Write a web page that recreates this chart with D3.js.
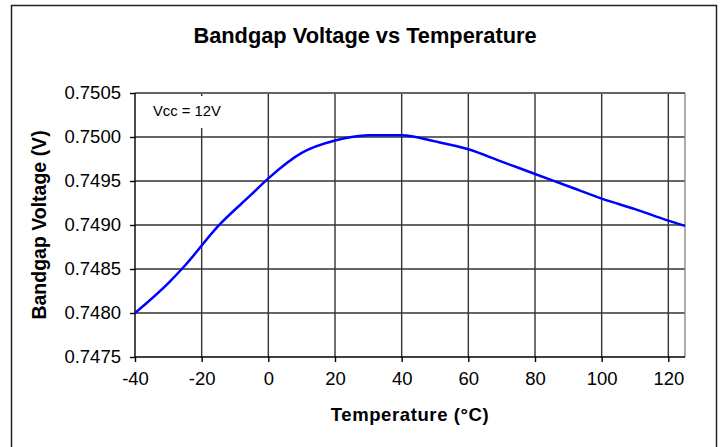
<!DOCTYPE html>
<html>
<head>
<meta charset="utf-8">
<script src="https://cdn.jsdelivr.net/npm/d3@7"></script>
<style>
  body { margin: 0; background: #fff; }
  text { font-family: "Liberation Sans", Arial, sans-serif; }
</style>
</head>
<body>
<div id="chart"></div>
<script>
var temps = [-40, -30, -25, -15, -5, 0, 10, 20, 25, 30, 35, 40, 50, 60, 70, 80, 90, 100, 110, 120, 125];
var volts = [0.74800, 0.74834, 0.74854, 0.74899, 0.74935, 0.74953, 0.74982, 0.74996, 0.75000, 0.75002, 0.75002,
             0.75002, 0.74995, 0.74986, 0.74972, 0.74958, 0.74944, 0.74930, 0.74918, 0.74905, 0.74899];
var xTicks = [-40, -20, 0, 20, 40, 60, 80, 100, 120];
var yTicks = [0.7475, 0.7480, 0.7485, 0.7490, 0.7495, 0.7500, 0.7505];

var W = 720, H = 447;
var margin = {top: 93, right: 35, bottom: 90, left: 135},
    width = W - margin.left - margin.right,
    height = H - margin.top - margin.bottom;

var svg = d3.select("#chart").append("svg")
    .attr("width", W)
    .attr("height", H);

// outer chart frame (bottom edge runs off the picture)
svg.append("rect")
    .attr("x", 11.5).attr("y", 5.5)
    .attr("width", 705).attr("height", H + 10)
    .attr("fill", "none")
    .attr("stroke", "#222")
    .attr("stroke-width", 1.5);

var x = d3.scaleLinear().domain([-40, 125]).range([0, width]);
var y = d3.scaleLinear().domain([0.7475, 0.7505]).range([height, 0]);

var g = svg.append("g").attr("transform", "translate(" + margin.left + "," + margin.top + ")");

// grid
g.selectAll(".vgrid")
    .data(xTicks.filter(function(d) { return d > -40; }))
    .enter().append("line")
    .attr("x1", function(d) { return x(d); }).attr("x2", function(d) { return x(d); })
    .attr("y1", 0).attr("y2", height)
    .attr("stroke", "#333").attr("stroke-width", 1.4);

g.selectAll(".hgrid")
    .data(yTicks.filter(function(d) { return d > 0.7475; }))
    .enter().append("line")
    .attr("x1", 0).attr("x2", width)
    .attr("y1", function(d) { return y(d); }).attr("y2", function(d) { return y(d); })
    .attr("stroke", "#333").attr("stroke-width", 1.4);

// right / top border of plot area
g.append("line")
    .attr("x1", width).attr("x2", width).attr("y1", 0).attr("y2", height)
    .attr("stroke", "#888").attr("stroke-width", 1.4);
g.append("line")
    .attr("x1", 0).attr("x2", width).attr("y1", 0).attr("y2", 0)
    .attr("stroke", "#666").attr("stroke-width", 1.4);

// axes
var xAxis = g.append("g")
    .attr("transform", "translate(0," + height + ")")
    .call(d3.axisBottom(x).tickValues(xTicks).tickSize(5).tickPadding(10)
      .tickFormat(function(d) { return String(d); }));
var yAxis = g.append("g")
    .call(d3.axisLeft(y).tickValues(yTicks).tickSize(5).tickPadding(9).tickFormat(d3.format(".4f")));

[xAxis, yAxis].forEach(function(a) {
  a.select(".domain").attr("stroke", "#000").attr("stroke-width", 1.4);
  a.selectAll(".tick line").attr("stroke", "#000").attr("stroke-width", 1.4);
  a.selectAll(".tick text")
      .attr("fill", "#000")
      .style("font-family", "'Liberation Sans', Arial, sans-serif")
      .style("font-size", "18.5px");
});
xAxis.select(".domain").attr("d", "M0,0H" + width);
yAxis.select(".domain").attr("d", "M0," + height + "V0");

// Vcc label with white box
g.append("rect")
    .attr("x", 12).attr("y", 3).attr("width", 90).attr("height", 32)
    .attr("fill", "#fff");
g.append("text")
    .attr("x", 18).attr("y", 23)
    .style("font-size", "14.8px")
    .text("Vcc = 12V");

// curve
var line = d3.line()
    .x(function(d, i) { return x(temps[i]); })
    .y(function(d) { return y(d); })
    .curve(d3.curveMonotoneX);

g.append("path")
    .datum(volts)
    .attr("fill", "none")
    .attr("stroke", "#0000ff")
    .attr("stroke-width", 2.5)
    .attr("d", line);

// titles
svg.append("text")
    .attr("x", 365).attr("y", 43)
    .attr("text-anchor", "middle")
    .style("font-weight", "bold").style("font-size", "21.8px")
    .text("Bandgap Voltage vs Temperature");

svg.append("text")
    .attr("x", margin.left + width / 2).attr("y", 421)
    .attr("text-anchor", "middle")
    .style("font-weight", "bold").style("font-size", "18.5px")
    .style("letter-spacing", "0.6px")
    .text("Temperature (°C)");

svg.append("text")
    .attr("transform", "translate(46," + (margin.top + height / 2) + ") rotate(-90)")
    .attr("text-anchor", "middle")
    .style("font-weight", "bold").style("font-size", "19.5px")
    .text("Bandgap Voltage (V)");
</script>
</body>
</html>
